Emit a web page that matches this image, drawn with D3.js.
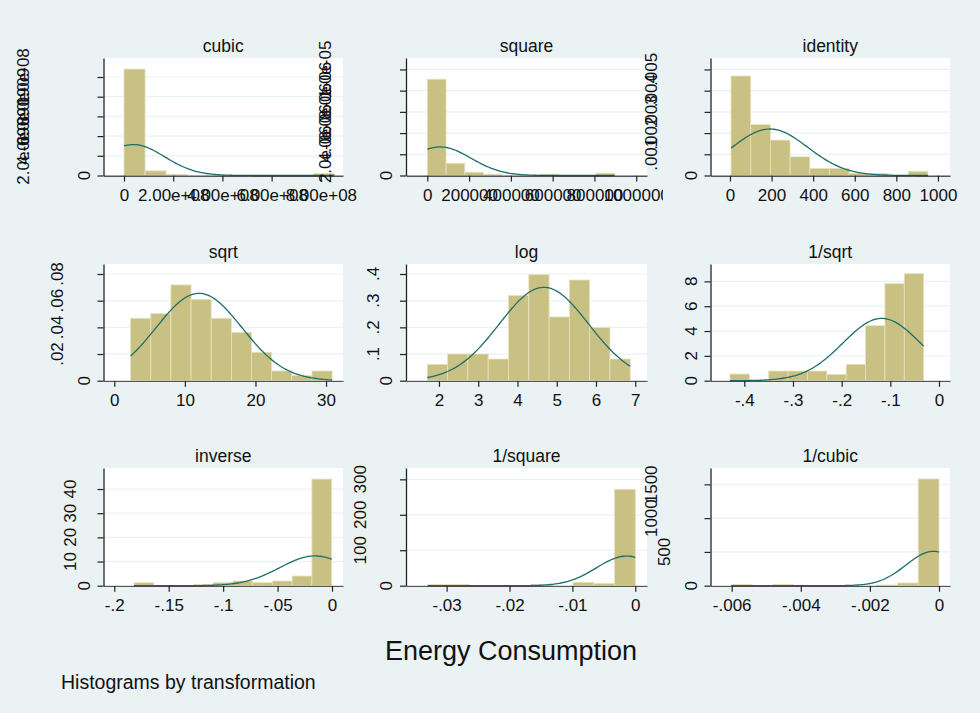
<!DOCTYPE html>
<html>
<head>
<meta charset="utf-8">
<script src="https://cdn.jsdelivr.net/npm/d3@7"></script>
<style>
  body { margin: 0; background: #eaf2f3; }
  text { font-family: Arial, "Liberation Sans", sans-serif; fill: #111; }
</style>
</head>
<body>
<svg id="chart" width="980" height="713"></svg>
<script>
// panel titles, reading order
const titles = ['cubic', 'square', 'identity', 'sqrt', 'log', '1/sqrt', 'inverse', '1/square', '1/cubic'];

// first bin edge and bin width of each histogram
const binStarts = [125, 30, 5, 2.31, 1.703, -0.4295, -0.1819, -0.0330, -0.00601];
const binWidths = [0.855e8, 8.97e4, 94.7, 2.855, 0.517, 0.0398, 0.01816, 0.0033, 0.000601];

// bar densities (10 bins each)
const cubicDensity    = [1.08e-8, 4.7e-10, 1.3e-10, 0, 0, 0, 0, 0, 0, 2.0e-10];
const squareDensity   = [9.08e-6, 1.16e-6, 3.1e-7, 1.2e-7, 0, 0, 1.2e-7, 0, 0, 2.2e-7];
const identityDensity = [0.00469, 0.0024, 0.00167, 0.00088, 0.00033, 0.00033, 0.0001, 0.0001, 0, 0.0002];
const sqrtDensity     = [0.0468, 0.0503, 0.0718, 0.061, 0.0468, 0.0363, 0.0213, 0.0073, 0.0038, 0.0073];
const logDensity      = [0.0613, 0.1, 0.1, 0.0813, 0.319, 0.3975, 0.239, 0.3775, 0.199, 0.0813];
const invSqrtDensity  = [0.537, 0, 0.78, 0.78, 0.78, 0.51, 1.32, 4.43, 7.81, 8.62];
const inverseDensity  = [1.24, 0, 0, 0.55, 1.38, 1.93, 1.24, 1.93, 4.0, 44.1];
const invSquareDensity = [3.8, 3.8, 0, 0, 0, 2.8, 0, 9.4, 6.6, 272];
const invCubicDensity = [20, 0, 20, 0, 0, 0, 0, 10, 40, 1580];
const densities = [cubicDensity, squareDensity, identityDensity, sqrtDensity, logDensity,
                   invSqrtDensity, inverseDensity, invSquareDensity, invCubicDensity];

// normal overlay: mean and sd
const normMeans = [0.38e8, 6.1e4, 192, 12.0, 4.674, -0.1178, -0.0156, -0.00138, -0.000164];
const normSds   = [1.27e8, 1.48e5, 182, 6.09, 1.14, 0.0795, 0.0324, 0.00477, 0.000785];

// axis extents
const xDomains = [[-0.833e8, 8.9e8], [-1.02e5, 1.0516e6], [-93.6, 1058], [-1.53, 32.4], [1.16, 7.30],
                  [-0.4695, 0.0226], [-0.2099, 0.0101], [-0.03646, 0.00186], [-0.006613, 0.000318]];
const yMax = [1.193e-8, 1.108e-5, 0.00554, 0.0875, 0.4375, 9.40, 48.7, 332, 1742];

// ticks and their labels
const xTicks = [
  [0, 2e8, 4e8, 6e8, 8e8], [0, 2e5, 4e5, 6e5, 8e5, 1e6], [0, 200, 400, 600, 800, 1000],
  [0, 10, 20, 30], [2, 3, 4, 5, 6, 7], [-0.4, -0.3, -0.2, -0.1, 0],
  [-0.2, -0.15, -0.1, -0.05, 0], [-0.03, -0.02, -0.01, 0], [-0.006, -0.004, -0.002, 0]];
const xTickLabels = [
  ['0', '2.00e+08', '4.00e+08', '6.00e+08', '8.00e+08'],
  ['0', '200000', '400000', '600000', '800000', '1000000'],
  ['0', '200', '400', '600', '800', '1000'],
  ['0', '10', '20', '30'], ['2', '3', '4', '5', '6', '7'], ['-.4', '-.3', '-.2', '-.1', '0'],
  ['-.2', '-.15', '-.1', '-.05', '0'], ['-.03', '-.02', '-.01', '0'], ['-.006', '-.004', '-.002', '0']];
const yTicks = [
  [0, 2e-9, 4e-9, 6e-9, 8e-9, 1e-8], [0, 2e-6, 4e-6, 6e-6, 8e-6, 1e-5],
  [0, 0.001, 0.002, 0.003, 0.004, 0.005], [0, 0.02, 0.04, 0.06, 0.08], [0, 0.1, 0.2, 0.3, 0.4],
  [0, 2, 4, 6, 8], [0, 10, 20, 30, 40], [0, 100, 200, 300], [0, 500, 1000, 1500]];
const yTickLabels = [
  ['0', '2.0e-09', '4.0e-09', '6.0e-09', '8.0e-09', '1.0e-08'],
  ['0', '2.0e-06', '4.0e-06', '6.0e-06', '8.0e-06', '1.0e-05'],
  ['0', '.001', '.002', '.003', '.004', '.005'], ['0', '.02', '.04', '.06', '.08'],
  ['0', '.1', '.2', '.3', '.4'], ['0', '2', '4', '6', '8'], ['0', '10', '20', '30', '40'],
  ['0', '100', '200', '300'], ['0', '500', '1000', '1500']];

const xTitle = 'Energy Consumption';
const note = 'Histograms by transformation';

// grid of plot regions
const colLeft = [103.5, 406, 710.5], colRight = [343, 647, 950];
const rowTop = [58, 264, 468], rowBottom = [175.5, 380.7, 585.7];

const barFill = '#c9c184', barEdge = '#e6e2bf', curveColor = '#1f6e6a';

const svg = d3.select('#chart');
svg.append('rect').attr('width', 980).attr('height', 713).attr('fill', '#eaf2f3');

// how far Stata pushed its vertical y labels off the axis, by label length
const labelOffset = n => Math.min(20 + 13.3 * (n - 1), 60 + 7 * (n - 4));

const yLabelLayer = [];

titles.forEach((title, p) => {
  const left = colLeft[p % 3], right = colRight[p % 3];
  const top = rowTop[Math.floor(p / 3)], bottom = rowBottom[Math.floor(p / 3)];

  const x = d3.scaleLinear().domain(xDomains[p]).range([left, right]);
  const y = d3.scaleLinear().domain([0, yMax[p]]).range([bottom, top]);

  const g = svg.append('g').attr('class', 'panel');

  g.append('rect')
    .attr('x', left).attr('y', top)
    .attr('width', right - left).attr('height', bottom - top)
    .attr('fill', '#fff');

  // grid lines
  g.selectAll('line.grid')
    .data(yTicks[p].filter(v => v !== 0))
    .enter().append('line')
    .attr('class', 'grid')
    .attr('x1', left).attr('x2', right)
    .attr('y1', d => y(d)).attr('y2', d => y(d))
    .attr('stroke', '#eaf2f3').attr('stroke-width', 1.2);

  // bars
  const w = binWidths[p], s = binStarts[p];
  g.selectAll('rect.bar')
    .data(densities[p].map((d, i) => ({ i, d })).filter(b => b.d > 0))
    .enter().append('rect')
    .attr('class', 'bar')
    .attr('x', b => x(s + b.i * w))
    .attr('width', b => x(s + (b.i + 1) * w) - x(s + b.i * w))
    .attr('y', b => y(b.d))
    .attr('height', b => bottom - y(b.d))
    .attr('fill', barFill)
    .attr('stroke', barEdge).attr('stroke-width', 0.8);

  // normal density overlay, over the data range
  const mu = normMeans[p], sd = normSds[p];
  const xs = d3.range(0, 121).map(k => s + k * (10 * w) / 120);
  const pdf = v => Math.exp(-((v - mu) ** 2) / (2 * sd * sd)) / (sd * Math.sqrt(2 * Math.PI));
  g.append('path')
    .datum(xs)
    .attr('d', d3.line().x(v => x(v)).y(v => y(pdf(v))))
    .attr('fill', 'none')
    .attr('stroke', curveColor)
    .attr('stroke-width', 1.3);

  // x axis
  const clipId = 'clip' + p;
  svg.append('clipPath').attr('id', clipId)
    .append('rect').attr('x', 0).attr('y', 0).attr('width', right + 16).attr('height', 713);
  const gX = g.append('g')
    .attr('transform', `translate(0,${bottom})`)
    .attr('clip-path', `url(#${clipId})`)
    .call(d3.axisBottom(x).tickValues(xTicks[p])
      .tickFormat((d, i) => xTickLabels[p][i])
      .tickSize(6).tickSizeOuter(0).tickPadding(7));
  gX.selectAll('text').style('font-size', '17px').attr('fill', '#111');

  // y axis (labels drawn separately, vertical)
  const gY = g.append('g')
    .attr('transform', `translate(${left},0)`)
    .call(d3.axisLeft(y).tickValues(yTicks[p]).tickFormat('').tickSize(6).tickSizeOuter(0));

  [gX, gY].forEach(a => {
    a.select('.domain').attr('stroke', '#222').attr('stroke-width', 1.3);
    a.selectAll('.tick line').attr('stroke', '#222').attr('stroke-width', 1.2);
  });

  yTicks[p].forEach((v, i) => {
    const lab = yTickLabels[p][i];
    yLabelLayer.push({ x: left - labelOffset(lab.length), y: y(v), lab });
  });

  g.append('text')
    .attr('x', (left + right) / 2).attr('y', top - 6)
    .attr('text-anchor', 'middle')
    .style('font-size', '17.5px')
    .text(title);
});

// vertical y labels on top, they spill over neighbours like the original
svg.append('g').selectAll('text')
  .data(yLabelLayer)
  .enter().append('text')
  .attr('transform', d => `translate(${d.x},${d.y}) rotate(-90)`)
  .attr('text-anchor', 'middle')
  .attr('dy', '0.36em')
  .style('font-size', '17px')
  .text(d => d.lab);

svg.append('text')
  .attr('x', 511).attr('y', 660)
  .attr('text-anchor', 'middle')
  .style('font-size', '27px')
  .text(xTitle);

svg.append('text')
  .attr('x', 61).attr('y', 689)
  .style('font-size', '19.5px')
  .text(note);
</script>
</body>
</html>
